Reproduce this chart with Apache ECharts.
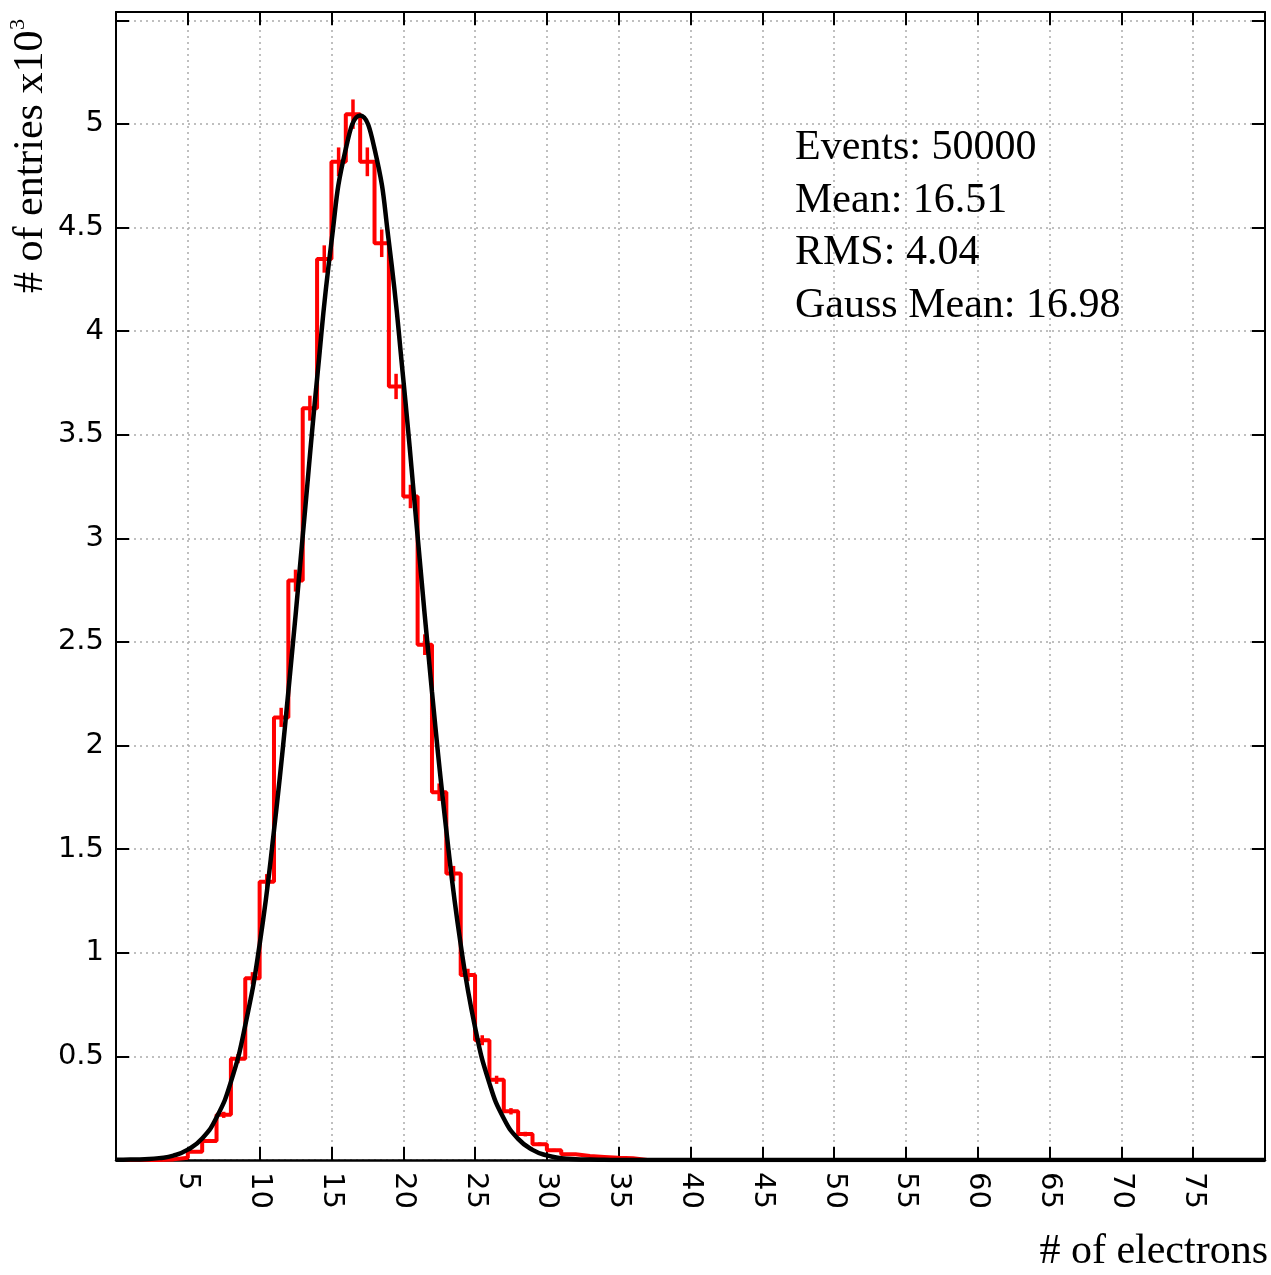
<!DOCTYPE html>
<html>
<head>
<meta charset="utf-8">
<script src="https://cdn.jsdelivr.net/npm/echarts@6/dist/echarts.min.js"></script>
<style>
  html, body { margin: 0; padding: 0; background: #fff; }
  #chart { width: 1271px; height: 1275px; }
</style>
</head>
<body>
<div id="chart"></div>
<script>
// histogram, bins of width 1 starting at firstBin (values in thousands of entries)
const firstBin = 3
const binCounts = [
  0.003, 0.011, 0.040, 0.092, 0.218, 0.489, 0.877, 1.343, 2.136, 2.796,
  3.628, 4.348, 4.817, 5.047, 4.817, 4.424, 3.733, 3.202, 2.487, 1.775,
  1.382, 0.893, 0.578, 0.387, 0.235, 0.125, 0.076, 0.047, 0.028, 0.019,
  0.015, 0.011, 0.008,
]

// gauss fit curve
const fitX = [0, 1, 2, 3, 4, 5, 6, 7, 8, 9, 10, 11, 12, 13, 14, 15, 16, 17, 18, 19,
  20, 21, 22, 23, 24, 25, 26, 27, 28, 29, 30, 31, 32, 33, 34, 35, 80]
const fitY = [0.001, 0.002, 0.004, 0.009, 0.021, 0.050, 0.104, 0.205, 0.377, 0.65,
  1.04, 1.59, 2.26, 3.01, 3.77, 4.43, 4.88, 5.04, 4.88, 4.43,
  3.77, 3.01, 2.26, 1.59, 1.04, 0.64, 0.37, 0.20, 0.102, 0.049,
  0.022, 0.009, 0.004, 0.002, 0.001, 0, 0]

const xTicks = [5, 10, 15, 20, 25, 30, 35, 40, 45, 50, 55, 60, 65, 70, 75]
const yTicks = [0.5, 1, 1.5, 2, 2.5, 3, 3.5, 4, 4.5, 5]

const statLines = ['Events: 50000', 'Mean: 16.51', 'RMS: 4.04', 'Gauss Mean: 16.98']

const xMin = 0, xMax = 80, yMin = 0, yMax = 5.54

// step outline over the full x range
const stepPts = []
for (let b = xMin; b < xMax; b++) {
  const i = b - firstBin
  stepPts.push([b, i >= 0 && i < binCounts.length ? binCounts[i] : 0])
}
stepPts.push([xMax, 0])

// poisson errors sqrt(N), N in entries
const errPts = binCounts.map((v, i) => [firstBin + i + 0.5, v, Math.sqrt(v * 1000) / 1000])

const fitPts = fitX.map((x, i) => [x, fitY[i]])

const onTick = (list) => (v) => list.some((t) => Math.abs(t - v) < 1e-6) ? String(+v.toFixed(2)) : ''

const gridLine = () => ({ show: true, lineStyle: { color: '#aaaaaa', width: 1.5, type: [2, 4] } })
const tick = () => ({ show: true, inside: true, length: 13, lineStyle: { color: '#000', width: 2 } })
const labelFont = { color: '#000', fontFamily: 'DejaVu Sans', fontSize: 29 }

const chart = echarts.init(document.getElementById('chart'), null, { renderer: 'canvas' })

chart.setOption({
  animation: false,
  backgroundColor: '#fff',
  grid: { left: 116, top: 12, width: 1149, height: 1148, show: false },
  xAxis: [
    {
      type: 'value', min: xMin, max: xMax, interval: 5, position: 'bottom',
      axisLine: { show: true, onZero: false, lineStyle: { color: '#000', width: 2.5 } },
      axisTick: tick(),
      splitLine: gridLine(),
      axisLabel: { ...labelFont, rotate: -90, margin: 12, formatter: onTick(xTicks) },
    },
    {
      type: 'value', min: xMin, max: xMax, interval: 5, position: 'top',
      axisLine: { show: true, onZero: false, lineStyle: { color: '#000', width: 2 } },
      axisTick: tick(), splitLine: { show: false }, axisLabel: { show: false },
    },
  ],
  yAxis: [
    {
      type: 'value', min: yMin, max: yMax, interval: 0.5, position: 'left',
      axisLine: { show: true, onZero: false, lineStyle: { color: '#000', width: 2 } },
      axisTick: tick(),
      splitLine: gridLine(),
      axisLabel: { ...labelFont, margin: 12, formatter: onTick(yTicks) },
    },
    {
      type: 'value', min: yMin, max: yMax, interval: 0.5, position: 'right',
      axisLine: { show: true, onZero: false, lineStyle: { color: '#000', width: 2 } },
      axisTick: tick(), splitLine: { show: false }, axisLabel: { show: false },
    },
  ],
  series: [
    {
      type: 'line', step: 'end', data: stepPts, showSymbol: false, z: 3,
      lineStyle: { color: '#ff0000', width: 4 },
    },
    {
      type: 'custom', data: errPts, z: 3,
      renderItem(params, api) {
        const x = api.value(0), v = api.value(1), e = api.value(2)
        const a = api.coord([x, v - e])
        const b = api.coord([x, v + e])
        return {
          type: 'line',
          shape: { x1: a[0], y1: a[1], x2: b[0], y2: b[1] },
          style: { stroke: '#ff0000', lineWidth: 3.5 },
        }
      },
    },
    {
      type: 'line', data: fitPts, smooth: true, showSymbol: false, z: 4,
      lineStyle: { color: '#000', width: 4.5 },
    },
  ],
  graphic: [
    ...statLines.map((t, i) => ({
      type: 'text', x: 795, y: 148 + i * 52.7, z: 10,
      style: { text: t, font: '42px "Liberation Serif"', fill: '#000', align: 'left', verticalAlign: 'middle' },
    })),
    {
      type: 'text', x: 1268, y: 1252, z: 10,
      style: { text: '# of electrons', font: '42px "Liberation Serif"', fill: '#000', align: 'right', verticalAlign: 'middle' },
    },
    {
      type: 'text', x: 31, y: 293, rotation: Math.PI / 2, z: 10,
      style: { text: '# of entries x10', font: '42px "Liberation Serif"', fill: '#000', align: 'left', verticalAlign: 'middle' },
    },
    {
      type: 'text', x: 18, y: 30, rotation: Math.PI / 2, z: 10,
      style: { text: '3', font: '22px "Liberation Serif"', fill: '#000', align: 'left', verticalAlign: 'middle' },
    },
  ],
})
</script>
</body>
</html>
